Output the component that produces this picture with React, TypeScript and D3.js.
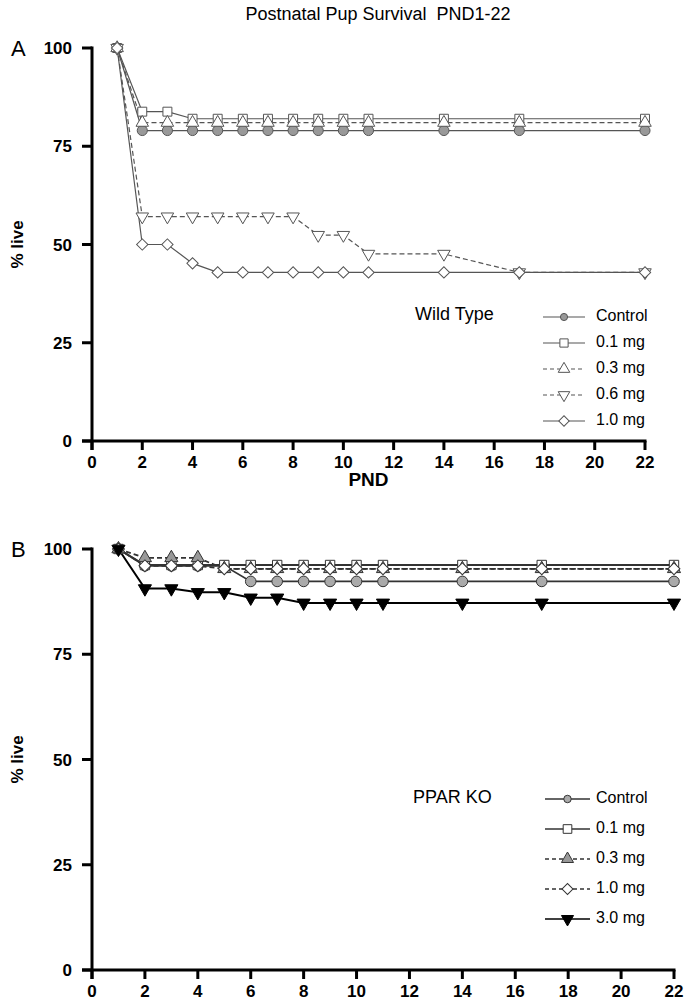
import React from 'react';
import * as d3 from 'd3';

const days = [1, 2, 3, 4, 5, 6, 7, 8, 9, 10, 11, 14, 17, 22];
const xTicks = [0, 2, 4, 6, 8, 10, 12, 14, 16, 18, 20, 22];
const yTicks = [0, 25, 50, 75, 100];

// Panel A: Wild Type
const wtControl = [100, 79.0, 79.0, 79.0, 79.0, 79.0, 79.0, 79.0, 79.0, 79.0, 79.0, 79.0, 79.0, 79.0];
const wt01 = [100, 83.8, 83.8, 82.0, 82.0, 82.0, 82.0, 82.0, 82.0, 82.0, 82.0, 82.0, 82.0, 82.0];
const wt03 = [100, 81.0, 81.0, 81.0, 81.0, 81.0, 81.0, 81.0, 81.0, 81.0, 81.0, 81.0, 81.0, 81.0];
const wt06 = [100, 57.1, 57.1, 57.1, 57.1, 57.1, 57.1, 57.1, 52.4, 52.4, 47.6, 47.6, 42.9, 42.9];
const wt10 = [100, 50.0, 50.0, 45.2, 42.9, 42.9, 42.9, 42.9, 42.9, 42.9, 42.9, 42.9, 42.9, 42.9];

// Panel B: PPAR KO
const koControl = [100, 96.0, 96.0, 96.0, 96.0, 92.3, 92.3, 92.3, 92.3, 92.3, 92.3, 92.3, 92.3, 92.3];
const ko01 = [100, 96.2, 96.2, 96.2, 96.2, 96.2, 96.2, 96.2, 96.2, 96.2, 96.2, 96.2, 96.2, 96.2];
const ko03 = [100, 97.9, 97.9, 97.9, 95.3, 95.3, 95.3, 95.3, 95.3, 95.3, 95.3, 95.3, 95.3, 95.3];
const ko10 = [100, 96.0, 96.0, 96.0, 95.3, 95.3, 95.3, 95.3, 95.3, 95.3, 95.3, 95.3, 95.3, 95.3];
const ko30 = [100, 90.6, 90.6, 89.7, 89.7, 88.4, 88.4, 87.2, 87.2, 87.2, 87.2, 87.2, 87.2, 87.2];

const wtLabels = ['Control', '0.1 mg', '0.3 mg', '0.6 mg', '1.0 mg'];
const koLabels = ['Control', '0.1 mg', '0.3 mg', '1.0 mg', '3.0 mg'];

type Shape = 'circle' | 'square' | 'triUp' | 'triDown' | 'diamond';
type Series = {
  label: string;
  values: number[];
  shape: Shape;
  fill: string;
  dashed: boolean;
  stroke: string;
  width: number;
  mstroke: string;
};

const FONT = 'Liberation Sans, Arial, Helvetica, sans-serif';

function symbolPath(shape: Shape, size: number) {
  const t =
    shape === 'circle' ? d3.symbolCircle : shape === 'square' || shape === 'diamond' ? d3.symbolSquare : d3.symbolTriangle;
  return d3.symbol().type(t).size(size)() as string;
}
function rot(shape: Shape) {
  return shape === 'diamond' ? 45 : shape === 'triDown' ? 180 : 0;
}
function sizeOf(shape: Shape, scale: number) {
  const base = shape === 'circle' ? 80 : shape === 'square' ? 80 : shape === 'diamond' ? 64 : 68;
  return base * scale;
}

function Marker({ s, x, y, scale }: { s: Series; x: number; y: number; scale: number }) {
  return (
    <path
      d={symbolPath(s.shape, sizeOf(s.shape, scale))}
      transform={`translate(${x},${y}) rotate(${rot(s.shape)})`}
      fill={s.fill}
      stroke={s.mstroke}
      strokeWidth={1}
    />
  );
}

type PanelProps = {
  series: Series[];
  xRange: [number, number];
  yRange: [number, number];
  letter: string;
  name: string;
  nameX: number;
  nameY: number;
  legY: number;
  legStep: number;
  legLine: [number, number];
  showPND: boolean;
  mScale: number;
};

function Panel(p: PanelProps) {
  const x = d3.scaleLinear().domain([0, 22]).range(p.xRange);
  const y = d3.scaleLinear().domain([0, 100]).range(p.yRange);
  const x0 = x(0);
  const y0 = y(0);
  const line = d3
    .line<number>()
    .x((_, i) => x(days[i]))
    .y((v) => y(v));
  const midY = (y(0) + y(100)) / 2;
  return (
    <g>
      <text x={11} y={y(100) + 8} fontFamily={FONT} fontSize={22}>
        {p.letter}
      </text>
      <text
        transform={`translate(23,${midY}) rotate(-90)`}
        textAnchor="middle"
        fontFamily={FONT}
        fontWeight="bold"
        fontSize={17}
      >
        % live
      </text>
      {p.series.map((s, i) => (
        <path
          key={'l' + i}
          d={line(s.values) as string}
          fill="none"
          stroke={s.stroke}
          strokeWidth={s.width}
          strokeDasharray={s.dashed ? '5,3' : undefined}
        />
      ))}
      {p.series.map((s, i) => (
        <g key={'m' + i}>
          {s.values.map((v, j) => (
            <Marker key={j} s={s} x={x(days[j])} y={y(v)} scale={p.mScale} />
          ))}
        </g>
      ))}
      <line x1={x0} x2={x0} y1={y(100) - 1.5} y2={y0 + 9} stroke="#000" strokeWidth={3} />
      <line x1={x0 - 10} x2={x(22) + 1.5} y1={y0} y2={y0} stroke="#000" strokeWidth={3} />
      {yTicks.map((t) => (
        <g key={'yt' + t}>
          <line x1={x0 - 10} x2={x0} y1={y(t)} y2={y(t)} stroke="#000" strokeWidth={3} />
          <text
            x={x0 - 20}
            y={y(t) + 6}
            textAnchor="end"
            fontFamily={FONT}
            fontWeight="bold"
            fontSize={17}
          >
            {t}
          </text>
        </g>
      ))}
      {xTicks.map((t) => (
        <g key={'xt' + t}>
          <line x1={x(t)} x2={x(t)} y1={y0} y2={y0 + 9} stroke="#000" strokeWidth={3} />
          <text x={x(t)} y={y0 + 27} textAnchor="middle" fontFamily={FONT} fontWeight="bold" fontSize={17}>
            {t}
          </text>
        </g>
      ))}
      {p.showPND && (
        <text x={(x(0) + x(22)) / 2} y={y0 + 45} textAnchor="middle" fontFamily={FONT} fontWeight="bold" fontSize={19}>
          PND
        </text>
      )}
      <text x={p.nameX} y={p.nameY} fontFamily={FONT} fontSize={18} dominantBaseline="middle">
        {p.name}
      </text>
      {p.series.map((s, i) => {
        const ly = p.legY + i * p.legStep;
        const mx = (p.legLine[0] + p.legLine[1]) / 2;
        return (
          <g key={'lg' + i}>
            <line
              x1={p.legLine[0]}
              x2={p.legLine[1]}
              y1={ly}
              y2={ly}
              stroke={s.stroke}
              strokeWidth={Math.min(s.width, 1.5)}
              strokeDasharray={s.dashed ? '4,3' : undefined}
            />
            <Marker s={s} x={mx} y={ly} scale={p.mScale * (s.shape === 'circle' ? 0.5 : 0.85)} />
            <text x={596} y={ly} dominantBaseline="middle" fontFamily={FONT} fontSize={16}>
              {s.label}
            </text>
          </g>
        );
      })}
    </g>
  );
}

const gA = '#555';
const wtSeries: Series[] = [
  { label: wtLabels[0], values: wtControl, shape: 'circle', fill: '#999', dashed: false, stroke: gA, width: 1.2, mstroke: '#555' },
  { label: wtLabels[1], values: wt01, shape: 'square', fill: '#fff', dashed: false, stroke: gA, width: 1.2, mstroke: '#555' },
  { label: wtLabels[2], values: wt03, shape: 'triUp', fill: '#fff', dashed: true, stroke: gA, width: 1.2, mstroke: '#555' },
  { label: wtLabels[3], values: wt06, shape: 'triDown', fill: '#fff', dashed: true, stroke: gA, width: 1.2, mstroke: '#555' },
  { label: wtLabels[4], values: wt10, shape: 'diamond', fill: '#fff', dashed: false, stroke: gA, width: 1.2, mstroke: '#555' },
];

const gB = '#333';
const koSeries: Series[] = [
  { label: koLabels[0], values: koControl, shape: 'circle', fill: '#aaa', dashed: false, stroke: gB, width: 1.8, mstroke: '#333' },
  { label: koLabels[1], values: ko01, shape: 'square', fill: '#fff', dashed: false, stroke: gB, width: 1.8, mstroke: '#333' },
  { label: koLabels[2], values: ko03, shape: 'triUp', fill: '#999', dashed: true, stroke: gB, width: 1.8, mstroke: '#333' },
  { label: koLabels[3], values: ko10, shape: 'diamond', fill: '#fff', dashed: true, stroke: gB, width: 1.8, mstroke: '#333' },
  { label: koLabels[4], values: ko30, shape: 'triDown', fill: '#000', dashed: false, stroke: '#000', width: 2, mstroke: '#000' },
];

export default function App() {
  return (
    <svg
      width={685}
      height={1003}
      viewBox="0 0 685 1003"
      style={{ position: 'absolute', left: 0, top: 0, background: '#fff' }}
    >
      <rect x={0} y={0} width={685} height={1003} fill="#fff" />
      <text x={378} y={20} textAnchor="middle" fontFamily={FONT} fontSize={18}>
        {'Postnatal Pup Survival\u00a0\u00a0PND1-22'}
      </text>
      <Panel
        series={wtSeries}
        xRange={[92, 645]}
        yRange={[441, 48]}
        letter="A"
        name="Wild Type"
        nameX={415}
        nameY={315}
        legY={317}
        legStep={26}
        legLine={[543, 585]}
        showPND={true}
        mScale={1}
      />
      <Panel
        series={koSeries}
        xRange={[92, 674]}
        yRange={[970, 549]}
        letter="B"
        name="PPAR KO"
        nameX={413}
        nameY={798}
        legY={799}
        legStep={30}
        legLine={[545, 590]}
        showPND={false}
        mScale={1.1}
      />
    </svg>
  );
}
